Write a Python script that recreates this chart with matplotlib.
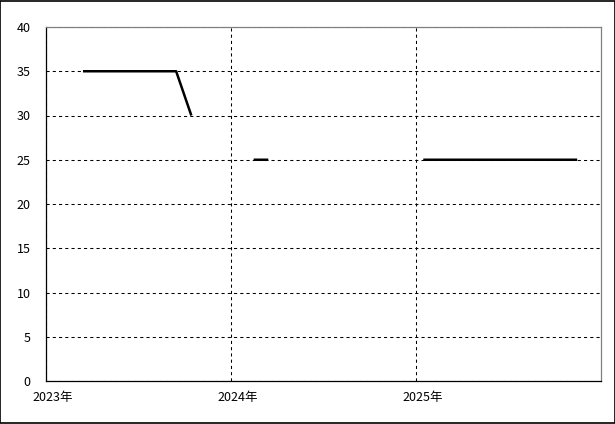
import numpy as np
import pandas as pd
import matplotlib
matplotlib.use("Agg")
import matplotlib.pyplot as plt
import matplotlib.transforms as mtransforms
from matplotlib.patches import Rectangle

plt.rcParams['font.family'] = ['Noto Sans CJK JP', 'DejaVu Sans']

# monthly values (mid-month), None = no data
months = pd.date_range("2023-03-01", "2025-11-01", freq="MS") + pd.Timedelta(days=14)
values = [35, 35, 35, 35, 35, 35, 35, 30,            # 2023-03 .. 2023-10
          None, None, None,                          # 2023-11 .. 2024-01
          25, 25,                                    # 2024-02 .. 2024-03
          None, None, None, None, None, None, None, None, None,  # 2024-04 .. 2024-12
          25, 25, 25, 25, 25, 25, 25, 25, 25, 25, 25]  # 2025-01 .. 2025-11
values = np.array([np.nan if v is None else v for v in values], dtype=float)

year_ticks = ["2023-01-01", "2024-01-01", "2025-01-01"]
year_labels = ["2023年", "2024年", "2025年"]
y_ticks = [0, 5, 10, 15, 20, 25, 30, 35, 40]

fig = plt.figure(figsize=(6.15, 4.24), dpi=100)
ax = fig.add_axes([46/615, 43/424, 555/615, 354/424])

ax.plot(months, values, color="black", lw=1.8, solid_capstyle="butt")

ax.set_xlim(pd.Timestamp("2023-01-01"), pd.Timestamp("2026-01-01"))
ax.set_ylim(0, 40)
ax.set_yticks(y_ticks)
ax.set_xticks(pd.to_datetime(year_ticks))
ax.set_xticklabels(year_labels)

ax.tick_params(length=0, labelsize=9, colors="black")
ax.tick_params(axis="y", pad=11)
ax.tick_params(axis="x", pad=7)

# x labels sit a bit to the right of their tick
shift = mtransforms.ScaledTranslation(7/100, 0, fig.dpi_scale_trans)
for lbl in ax.get_xticklabels():
    lbl.set_transform(lbl.get_transform() + shift)

ax.grid(True, color="black", linestyle=(0, (3, 3)), linewidth=0.75)
ax.set_axisbelow(True)

for s in ["top", "right"]:
    ax.spines[s].set_color("#808080")
    ax.spines[s].set_linewidth(0.9)
for s in ["left", "bottom"]:
    ax.spines[s].set_color("black")
    ax.spines[s].set_linewidth(0.9)

fig.patches.append(Rectangle((0.0008, 0.0012), 0.9984, 0.9976, transform=fig.transFigure,
                             fill=False, edgecolor="black", linewidth=1.2))

fig.savefig("out.png", dpi=100)
